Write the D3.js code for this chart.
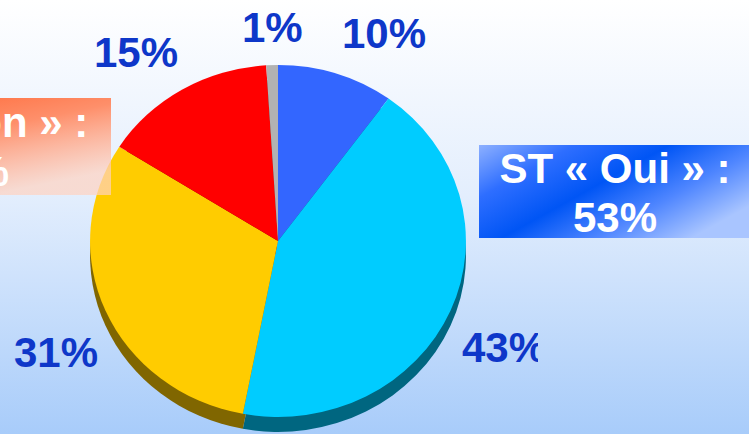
<!DOCTYPE html>
<html>
<head>
<meta charset="utf-8">
<script src="https://cdn.jsdelivr.net/npm/d3@7"></script>
<style>
  html, body { margin: 0; padding: 0; overflow: hidden; }
  svg { display: block; }
</style>
</head>
<body>
<script>
// Slice data, clockwise from 12 o'clock
const sliceLabels = ['10%', '43%', '31%', '15%', '1%'];
const sliceValues = [10, 43, 31, 15, 1];
const topColors = ['#3366FF', '#00CCFF', '#FFCC00', '#FF0000', '#B2B2B2'];
const sideColors = ['#1A3380', '#006680', '#806600', '#800000', '#595959'];

// Call-out boxes
const ouiLines = ['ST « Oui » :', '53%'];
const nonLines = ['ST « Non » :', '46%'];

const width = 749, height = 434;
const cx = 278, cy = 241, rx = 188, ry = 176, depth = 15;

const svg = d3.select('body').append('svg')
    .attr('width', width)
    .attr('height', height);

const defs = svg.append('defs');

// Background gradient
const bg = defs.append('linearGradient')
    .attr('id', 'bg').attr('x1', 0).attr('y1', 0).attr('x2', 0).attr('y2', 1);
bg.append('stop').attr('offset', 0).attr('stop-color', '#FFFFFF');
bg.append('stop').attr('offset', 0.45).attr('stop-color', '#E3EEFD');
bg.append('stop').attr('offset', 1).attr('stop-color', '#A8CCFA');

const blueBox = defs.append('linearGradient')
    .attr('id', 'blueBox').attr('x1', 0).attr('y1', 0).attr('x2', 1).attr('y2', 0.6);
blueBox.append('stop').attr('offset', 0).attr('stop-color', '#8DB0FF');
blueBox.append('stop').attr('offset', 0.25).attr('stop-color', '#2E6EFF');
blueBox.append('stop').attr('offset', 0.5).attr('stop-color', '#0055F5');
blueBox.append('stop').attr('offset', 0.75).attr('stop-color', '#4F86FF');
blueBox.append('stop').attr('offset', 1).attr('stop-color', '#A9C5FF');

const orangeBox = defs.append('linearGradient')
    .attr('id', 'orangeBox').attr('x1', 0).attr('y1', 0).attr('x2', 0.5).attr('y2', 1);
orangeBox.append('stop').attr('offset', 0).attr('stop-color', '#FF6633').attr('stop-opacity', 1);
orangeBox.append('stop').attr('offset', 0.45).attr('stop-color', '#FF8A63').attr('stop-opacity', 0.95);
orangeBox.append('stop').attr('offset', 1).attr('stop-color', '#FFD2C0').attr('stop-opacity', 0.7);

defs.append('clipPath').attr('id', 'labelClip')
    .append('rect').attr('x', 0).attr('y', 0).attr('width', 538).attr('height', height);

svg.append('rect')
    .attr('width', width).attr('height', height)
    .attr('fill', 'url(#bg)');

// Pie, drawn on a unit circle then squashed into an ellipse
const pie = d3.pie().sort(null).value(d => d)(sliceValues);
const arc = d3.arc().innerRadius(0).outerRadius(1);

// side (extrusion) layer
svg.append('g')
    .attr('transform', `translate(${cx},${cy + depth}) scale(${rx},${ry})`)
    .selectAll('path')
    .data(pie)
    .join('path')
    .attr('d', arc)
    .attr('fill', (d, i) => sideColors[i]);

// top face
svg.append('g')
    .attr('transform', `translate(${cx},${cy}) scale(${rx},${ry})`)
    .selectAll('path')
    .data(pie)
    .join('path')
    .attr('d', arc)
    .attr('fill', (d, i) => topColors[i]);

// Percent labels (left edge, baseline)
const labelPos = [[342, 48], [462, 362], [14, 367], [94, 67], [242, 42]];
svg.append('g')
    .attr('clip-path', 'url(#labelClip)')
    .selectAll('text')
    .data(sliceLabels)
    .join('text')
    .attr('x', (d, i) => labelPos[i][0])
    .attr('y', (d, i) => labelPos[i][1])
    .attr('font-family', 'Liberation Sans, Arial, sans-serif')
    .attr('font-weight', 'bold')
    .attr('font-size', 42)
    .attr('fill', '#0E37C9')
    .text(d => d);

// Call-out boxes
function callout(x, y, w, h, fill, lines, tx, ty) {
    const g = svg.append('g');
    g.append('rect')
        .attr('x', x).attr('y', y).attr('width', w).attr('height', h)
        .attr('fill', fill);
    g.selectAll('text')
        .data(lines)
        .join('text')
        .attr('x', tx)
        .attr('y', (d, i) => ty + i * 49)
        .attr('text-anchor', 'middle')
        .attr('font-family', 'Liberation Sans, Arial, sans-serif')
        .attr('font-weight', 'bold')
        .attr('font-size', 42)
        .attr('fill', '#FFFFFF')
        .text(d => d);
}

callout(-130, 98, 241, 97, 'url(#orangeBox)', nonLines, -33, 137);
callout(479, 145, 280, 93, 'url(#blueBox)', ouiLines, 615, 183);
</script>
</body>
</html>
